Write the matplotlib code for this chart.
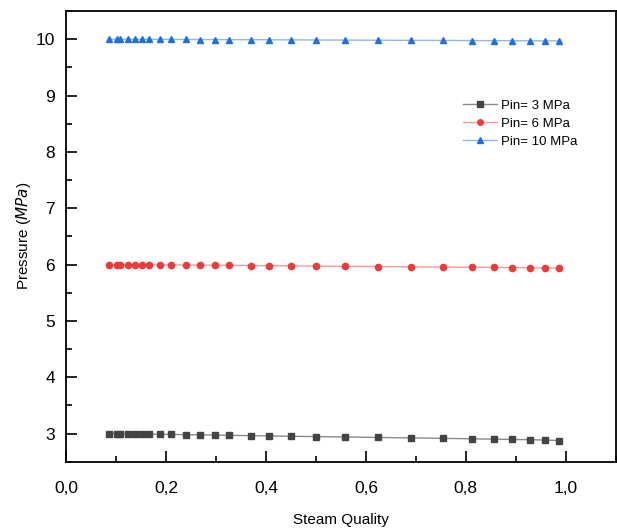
import matplotlib
matplotlib.use("Agg")
import matplotlib.pyplot as plt
from matplotlib.ticker import MultipleLocator, FuncFormatter

plt.rcParams['font.family'] = ['Liberation Sans', 'DejaVu Sans']

quality = [0.0866, 0.1014, 0.108, 0.1234, 0.138, 0.1526, 0.1666, 0.188, 0.21,
           0.2394, 0.2686, 0.2974, 0.3266, 0.37, 0.406, 0.4494, 0.5006, 0.5586,
           0.624, 0.6894, 0.7546, 0.8126, 0.856, 0.8926, 0.9286, 0.958, 0.9866]

p3 = [3.000, 3.000, 2.998, 2.996, 2.994, 2.992, 2.990, 2.987, 2.984, 2.980,
      2.976, 2.972, 2.968, 2.962, 2.957, 2.951, 2.945, 2.938, 2.930, 2.922,
      2.914, 2.906, 2.900, 2.895, 2.890, 2.884, 2.876]
p6 = [6.000, 6.000, 5.999, 5.998, 5.997, 5.996, 5.995, 5.994, 5.993, 5.991,
      5.989, 5.987, 5.985, 5.982, 5.979, 5.976, 5.972, 5.968, 5.964, 5.959,
      5.955, 5.951, 5.948, 5.945, 5.942, 5.939, 5.935]
p10 = [10.000, 10.000, 10.000, 9.999, 9.999, 9.998, 9.998, 9.997, 9.996, 9.995,
       9.994, 9.993, 9.992, 9.991, 9.990, 9.988, 9.986, 9.984, 9.982, 9.980,
       9.978, 9.976, 9.975, 9.974, 9.972, 9.971, 9.969]

labels = ['Pin= 3 MPa', 'Pin= 6 MPa', 'Pin= 10 MPa']
series = [p3, p6, p10]
markers = ['s', 'o', '^']
mcolors = ['#444444', '#ee3a3a', '#1f6fde']
lcolors = ['#8a8a8a', '#f59a9a', '#8fb6ef']

fig = plt.figure(figsize=(6.17, 5.28), dpi=100)
ax = fig.add_axes([0.107, 0.1256, 0.891, 0.8535])

for y, lab, m, mc, lc in zip(series, labels, markers, mcolors, lcolors):
    ax.plot(quality, y, color=lc, lw=1.0, marker=m, markersize=4.5,
            markerfacecolor=mc, markeredgecolor=mc, label=lab)

ax.set_xlim(0, 1.1)
ax.set_ylim(2.5, 10.5)
ax.xaxis.set_major_locator(MultipleLocator(0.2))
ax.xaxis.set_minor_locator(MultipleLocator(0.1))
ax.yaxis.set_major_locator(MultipleLocator(1))
ax.yaxis.set_minor_locator(MultipleLocator(0.5))
ax.xaxis.set_major_formatter(FuncFormatter(lambda v, p: f"{v:.1f}".replace('.', ',')))
ax.tick_params(which='major', direction='in', length=8, width=1.2, labelsize=12.5,
               top=False, right=False)
ax.tick_params(axis='x', which='major', pad=14)
ax.tick_params(axis='y', which='major', pad=8)
ax.tick_params(which='minor', direction='in', length=4, width=1.2, top=False, right=False)
for s in ax.spines.values():
    s.set_linewidth(1.3)

ax.set_xlabel('Steam Quality', fontsize=11, labelpad=12)
ax.set_ylabel('Pressure ($\\mathit{MPa}$)', fontsize=11, labelpad=2)

leg = ax.legend(loc='upper left', bbox_to_anchor=(0.7, 0.83), frameon=False,
                fontsize=9.5, handlelength=2.6, labelspacing=0.45, handletextpad=0.3)
for h in leg.legend_handles:
    h.set_markersize(4)

fig.savefig('out.png', dpi=100)
